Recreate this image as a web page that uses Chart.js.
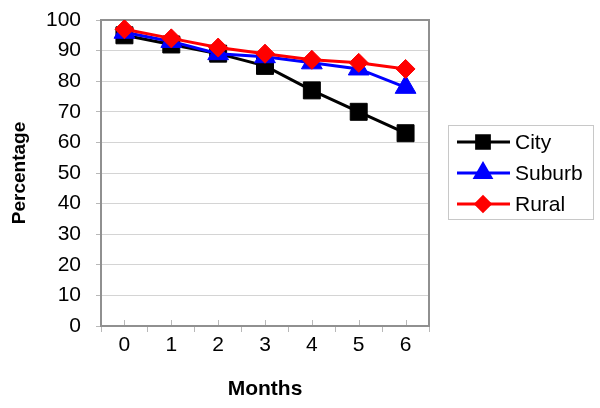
<!DOCTYPE html>
<html>
<head>
<meta charset="utf-8">
<script src="https://cdn.jsdelivr.net/npm/chart.js@4/dist/chart.umd.min.js"></script>
<style>
html,body{margin:0;padding:0;background:#fff;}
#wrap{width:600px;height:408px;}
</style>
</head>
<body>
<div id="wrap"><canvas id="c" width="600" height="408"></canvas></div>
<script>
const months = ['0', '1', '2', '3', '4', '5', '6'];
const city = [95, 92, 89, 85, 77, 70, 63];
const suburb = [96, 93, 89, 88, 86, 84, 78];
const rural = [97, 94, 91, 89, 87, 86, 84];
const seriesNames = ['City', 'Suburb', 'Rural'];
const yTitle = 'Percentage';
const xTitle = 'Months';

const FONT = 'Arial, "Liberation Sans", sans-serif';

const frame = {
  id: 'frame',
  beforeDatasetsDraw(chart) {
    const a = chart.chartArea, ctx = chart.ctx;
    ctx.save();
    ctx.strokeStyle = '#909090';
    ctx.lineWidth = 2;
    ctx.strokeRect(a.left, a.top, a.right - a.left, a.bottom - a.top);
    // small inner ticks at category centres
    const xs = chart.scales.x;
    ctx.strokeStyle = '#b8b8b8';
    ctx.lineWidth = 1;
    months.forEach((m, i) => {
      const px = Math.round(xs.getPixelForValue(i)) + 0.5;
      ctx.beginPath();
      ctx.moveTo(px, a.bottom - 1);
      ctx.lineTo(px, a.bottom - 6);
      ctx.stroke();
    });
    ctx.restore();
  }
};

const legendBox = {
  id: 'legendBox',
  afterDraw(chart) {
    const ctx = chart.ctx;
    ctx.save();
    ctx.strokeStyle = '#c8c8c8';
    ctx.lineWidth = 1;
    ctx.strokeRect(448.5, 125.5, 145, 94);
    chart.data.datasets.forEach((ds, i) => {
      const y = 142 + i * 31;
      ctx.strokeStyle = ds.borderColor;
      ctx.lineWidth = 3;
      ctx.beginPath();
      ctx.moveTo(457, y);
      ctx.lineTo(510, y);
      ctx.stroke();
      ctx.fillStyle = ds.pointBackgroundColor;
      Chart.helpers.drawPoint(ctx, {
        pointStyle: ds.pointStyle,
        radius: ds.pointRadius * 0.75,
        borderWidth: 1,
        rotation: 0
      }, 483, y);
      ctx.fillStyle = '#000';
      ctx.font = '21px ' + FONT;
      ctx.textBaseline = 'middle';
      ctx.textAlign = 'left';
      ctx.fillText(ds.label, 515, y + 1);
    });
    ctx.restore();
  }
};

new Chart(document.getElementById('c'), {
  type: 'line',
  data: {
    labels: months,
    datasets: [
      {label: seriesNames[0], data: city, borderColor: '#000000', backgroundColor: '#000000',
       pointBackgroundColor: '#000000', pointBorderColor: '#000000', pointStyle: 'rect',
       pointRadius: 12, pointBorderWidth: 1, borderWidth: 3, order: 3},
      {label: seriesNames[1], data: suburb, borderColor: '#0000ff', backgroundColor: '#0000ff',
       pointBackgroundColor: '#0000ff', pointBorderColor: '#0000ff', pointStyle: 'triangle',
       pointRadius: 12, pointBorderWidth: 1, borderWidth: 3, order: 2},
      {label: seriesNames[2], data: rural, borderColor: '#ff0000', backgroundColor: '#ff0000',
       pointBackgroundColor: '#ff0000', pointBorderColor: '#ff0000', pointStyle: 'rectRot',
       pointRadius: 9.5, pointBorderWidth: 1, borderWidth: 3, order: 1}
    ]
  },
  options: {
    responsive: false,
    animation: false,
    layout: {padding: {left: 0, top: 20, right: 171, bottom: 0}},
    plugins: {legend: {display: false}, tooltip: {enabled: false}},
    elements: {line: {tension: 0}},
    scales: {
      x: {
        type: 'category',
        offset: true,
        grid: {offset: true, drawOnChartArea: false, drawTicks: true, tickLength: 6, tickColor: '#b8b8b8', tickWidth: 1},
        border: {color: '#808080', width: 2},
        ticks: {color: '#000', font: {family: FONT, size: 21}, padding: 1, maxRotation: 0},
        title: {display: true, text: xTitle, color: '#000', font: {family: FONT, size: 21, weight: 'bold'}, padding: {top: 0, bottom: 6}},
        afterFit(s) { s.height = 82; }
      },
      y: {
        min: 0, max: 100,
        ticks: {stepSize: 10, color: '#000', font: {family: FONT, size: 21, lineHeight: 0.3}, padding: 15},
        grid: {color: '#d4d4d4', lineWidth: 1, tickLength: 5, tickColor: '#b8b8b8'},
        border: {color: '#808080', width: 2},
        title: {display: true, text: yTitle, color: '#000', font: {family: FONT, size: 19, weight: 'bold'}, padding: {top: 8, bottom: 0}},
        afterFit(s) { s.width = 101; }
      }
    }
  },
  plugins: [frame, legendBox]
});
</script>
</body>
</html>
